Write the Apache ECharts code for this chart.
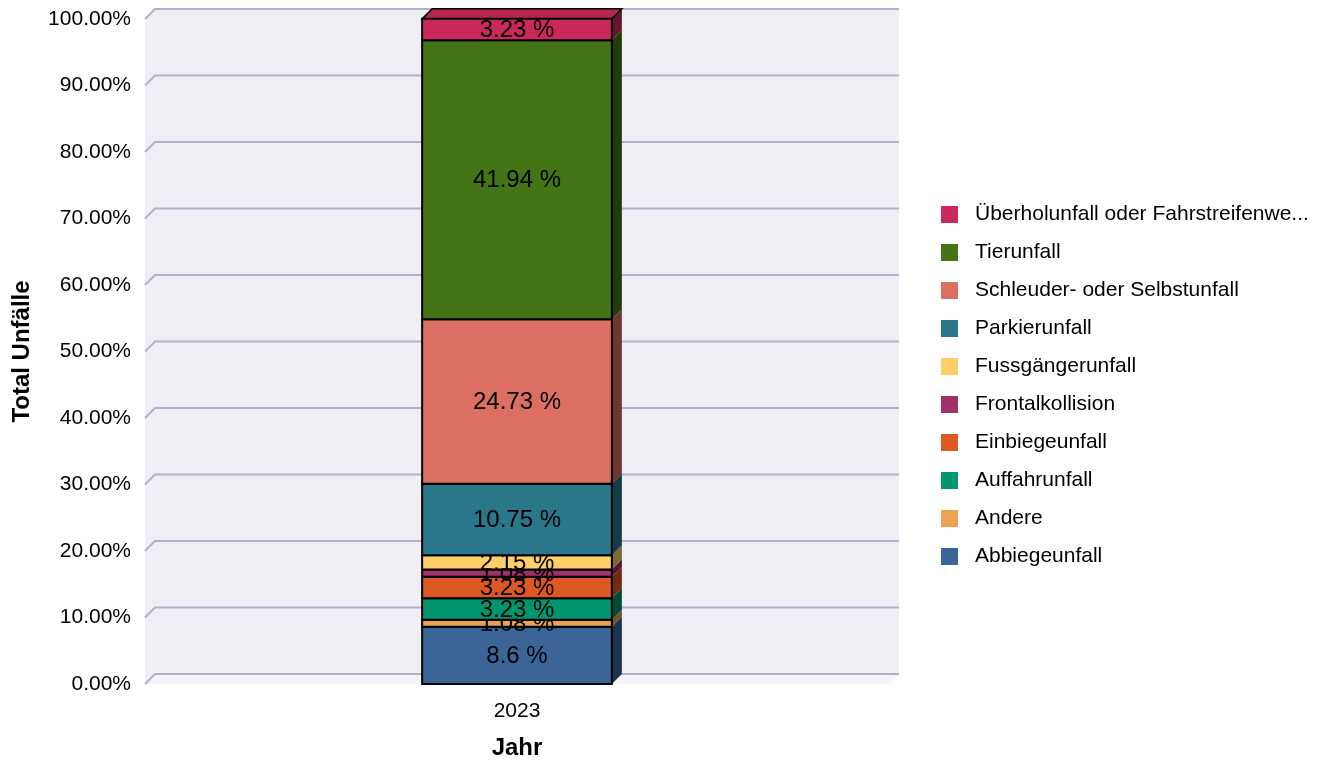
<!DOCTYPE html>
<html>
<head>
<meta charset="utf-8">
<style>
  html, body { margin: 0; padding: 0; background: #ffffff; }
  #chart { width: 1324px; height: 765px; }
</style>
<script src="https://cdn.jsdelivr.net/npm/echarts@6/dist/echarts.min.js"></script>
</head>
<body>
<div id="chart"></div>
<script>
// ---- data ----
const categories = ['2023'];
const seriesNames = [
  'Abbiegeunfall',
  'Andere',
  'Auffahrunfall',
  'Einbiegeunfall',
  'Frontalkollision',
  'Fussgängerunfall',
  'Parkierunfall',
  'Schleuder- oder Selbstunfall',
  'Tierunfall',
  'Überholunfall oder Fahrstreifenwechsel'
];
const shares = [8.6, 1.08, 3.23, 3.23, 1.08, 2.15, 10.75, 24.73, 41.94, 3.23];
const colors = [
  '#3b6597', '#eda253', '#02966f', '#dd5822', '#a2306a',
  '#fdcf66', '#2a768b', '#db6f61', '#437516', '#c92a5a'
];
const yTicks = [0, 10, 20, 30, 40, 50, 60, 70, 80, 90, 100];
const xName = 'Jahr';
const yName = 'Total Unfälle';

// ---- styling ----
const FONT = '"Liberation Sans", Arial, sans-serif';
const DX = 10, DY = -10;
const BAR_FRAC = 0.255;

function shade(hex, f) {
  const n = parseInt(hex.slice(1), 16);
  const r = Math.round(((n >> 16) & 255) * f);
  const g = Math.round(((n >> 8) & 255) * f);
  const b = Math.round((n & 255) * f);
  return 'rgb(' + r + ',' + g + ',' + b + ')';
}

const chart = echarts.init(document.getElementById('chart'), null, { renderer: 'canvas' });

// background walls (built from the grid's coordinate system)
const wallSeries = {
  type: 'custom',
  name: '_wall',
  silent: true,
  z: 0,
  data: [[0, 0]],
  renderItem: function (params, api) {
    const cs = params.coordSys;
    const L = cs.x, R = cs.x + cs.width, T = cs.y, B = cs.y + cs.height;
    return {
      type: 'group',
      children: [
        { type: 'polygon', shape: { points: [[L, T], [L + DX, T + DY], [R + DX, T + DY], [R + DX, B + DY], [R, B], [L, B]] },
          style: { fill: '#efeef5' } },
        { type: 'polygon', shape: { points: [[L, B], [L + DX, B + DY], [R + DX, B + DY], [R, B]] },
          style: { fill: '#f5f5f9' } }
      ]
    };
  }
};

// grid lines on back wall, one per tick value
const gridSeries = {
  type: 'custom',
  name: '_grid',
  silent: true,
  z: 1,
  data: yTicks.map(v => [0, v]),
  renderItem: function (params, api) {
    const cs = params.coordSys;
    const y = api.coord([0, api.value(1)])[1];
    const L = cs.x, R = cs.x + cs.width;
    return {
      type: 'polyline',
      shape: { points: [[L, y], [L + DX, y + DY], [R + DX, y + DY]] },
      style: { stroke: '#b3b1cb', lineWidth: 2, fill: null }
    };
  }
};

let cum = 0;
const barSeries = seriesNames.map((name, i) => {
  const base = cum;
  cum += shares[i];
  const isTop = i === seriesNames.length - 1;
  const col = colors[i];
  return {
    type: 'custom',
    name: name,
    z: 2 + i,
    itemStyle: { color: col },
    data: categories.map((c, ci) => [ci, base, shares[i]]),
    renderItem: function (params, api) {
      const x = api.value(0), b = api.value(1), v = api.value(2);
      const p0 = api.coord([x, b]);
      const p1 = api.coord([x, b + v]);
      const bw = api.size([1, 0])[0] * BAR_FRAC;
      const l = p0[0] - bw / 2, r = p0[0] + bw / 2;
      const yb = p0[1], yt = p1[1];
      const children = [
        { type: 'polygon', shape: { points: [[r, yb], [r + DX, yb + DY], [r + DX, yt + DY], [r, yt]] },
          style: { fill: shade(col, 0.5) } }
      ];
      if (isTop) {
        children.push({ type: 'polygon', shape: { points: [[l, yt], [l + DX, yt + DY], [r + DX, yt + DY], [r, yt]] },
          style: { fill: shade(col, 0.9), stroke: '#000', lineWidth: 1.5 } });
      }
      children.push({ type: 'rect', shape: { x: l, y: yt, width: bw, height: yb - yt },
        style: { fill: col, stroke: '#000', lineWidth: 2 } });
      children.push({ type: 'text', style: {
        text: v + ' %', x: p0[0], y: (yb + yt) / 2 + 1, align: 'center', verticalAlign: 'middle',
        fontSize: 24, fontFamily: FONT, fill: '#000' } });
      return { type: 'group', children: children };
    }
  };
});

const option = {
  animation: false,
  backgroundColor: '#ffffff',
  textStyle: { fontFamily: FONT },
  grid: { left: 145, right: 435, top: 19, bottom: 79, containLabel: false },
  legend: {
    orient: 'vertical',
    left: 936,
    top: 199,
    itemWidth: 17,
    itemHeight: 17,
    itemGap: 17,
    icon: 'rect',
    data: seriesNames.slice().reverse(),
    formatter: function (n) { return n.length > 33 ? n.slice(0, 33) + '...' : n; },
    textStyle: { fontFamily: FONT, fontSize: 21, color: '#000', padding: [0, 0, 0, 12] }
  },
  xAxis: {
    type: 'category',
    data: categories,
    name: xName,
    nameLocation: 'middle',
    nameGap: 52,
    nameTextStyle: { fontFamily: FONT, fontSize: 24, fontWeight: 'bold', color: '#000' },
    axisLine: { show: false },
    axisTick: { show: false },
    axisLabel: { fontFamily: FONT, fontSize: 21, color: '#000', margin: 17 },
    splitLine: { show: false }
  },
  yAxis: {
    type: 'value',
    min: 0,
    max: 100,
    interval: 10,
    name: yName,
    nameLocation: 'middle',
    nameGap: 111,
    nameTextStyle: { fontFamily: FONT, fontSize: 24, fontWeight: 'bold', color: '#000' },
    axisLine: { show: false },
    axisTick: { show: false },
    splitLine: { show: false },
    axisLabel: { fontFamily: FONT, fontSize: 21, color: '#000', margin: 14,
      formatter: function (v) { return v.toFixed(2) + '%'; } }
  },
  series: [wallSeries, gridSeries].concat(barSeries)
};

chart.setOption(option);
</script>
</body>
</html>
